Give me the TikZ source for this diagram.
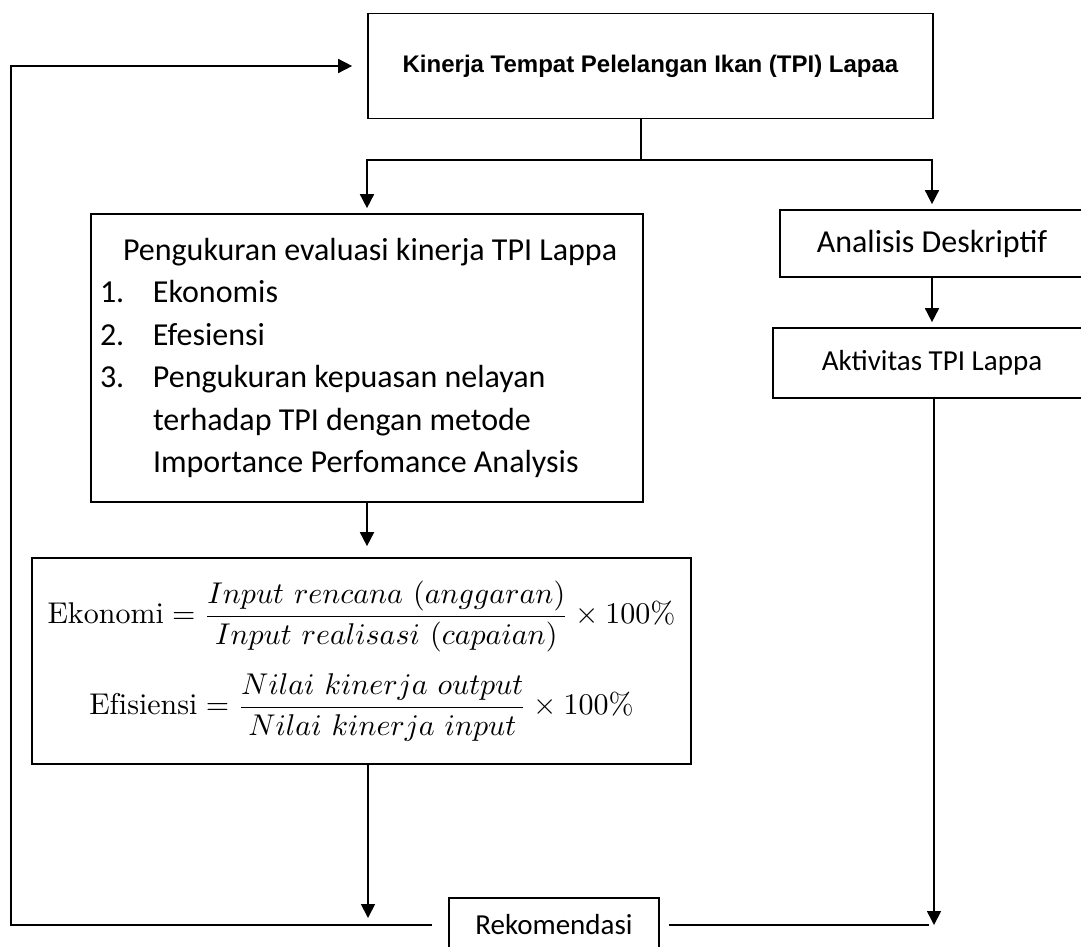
\documentclass[tikz,border=0pt]{standalone}
\usepackage{amsmath}
\usepackage{graphicx}
\usepackage{fontspec}
\newfontfamily\calibri{Carlito}
\newfontfamily\arial{Liberation Sans}
\usetikzlibrary{arrows.meta,calc}

\begin{document}
\begin{tikzpicture}[x=1pt,y=-1pt,line width=1.7pt,
 kotak/.style={draw,rectangle,inner sep=0pt,font=\calibri\fontsize{29}{42.5}\selectfont},
 panah/.style={-{Triangle[length=14pt,width=14pt]},shorten >=5pt}]
\useasboundingbox(0,0)rectangle(1081,946);
\clip(0,0)rectangle(1081,946);
\node[kotak,minimum width=565pt,minimum height=105pt,font=\arial\bfseries\fontsize{24}{28}\selectfont](judul)at(650.5,66){Kinerja Tempat Pelelangan Ikan (TPI) Lapaa};
\node[kotak,minimum width=552pt,minimum height=288pt,text width=534pt,align=flush left,font=\calibri\fontsize{32}{42.5}\selectfont](ukur)at(367,358){%
\hspace*{23pt}Pengukuran evaluasi kinerja TPI Lappa\\
\makebox[53pt][l]{1.}Ekonomis\\
\makebox[53pt][l]{2.}Efesiensi\\
\makebox[53pt][l]{3.}Pengukuran kepuasan nelayan\\
\hspace*{53pt}terhadap TPI dengan metode\\
\hspace*{53pt}Importance Perfomance Analysis};
\node[kotak,minimum width=304pt,minimum height=67pt,font=\calibri\fontsize{32}{38}\selectfont](deskriptif)at(932,243.5){Analisis Deskriptif};
\node[kotak,minimum width=318pt,minimum height=70pt](aktivitas)at(932,363){Aktivitas TPI Lappa};
\node[kotak,minimum width=659pt,minimum height=206pt,align=center,font=\fontsize{30}{91}\selectfont](rumus)at(361.5,661){%
\scalebox{3}{\fontsize{10}{12}\selectfont$\mathrm{Ekonomi}=\dfrac{Input\ rencana\ (anggaran)}{Input\ realisasi\ (capaian)}\times 100\%$}\\
\scalebox{3}{\fontsize{10}{12}\selectfont$\mathrm{Efisiensi}=\dfrac{Nilai\ kinerja\ output}{Nilai\ kinerja\ input}\times 100\%$}};
\node[kotak,minimum width=210pt,minimum height=54pt](rekomendasi)at(554,925){Rekomendasi};
% percabangan dari judul
\coordinate(cabang)at(641,160);
\draw(judul.south-|cabang)--(cabang);
\draw[panah](cabang)-|(ukur.north);
\draw[panah](cabang)-|(deskriptif.north);
\draw[panah](deskriptif.south)--(aktivitas.north);
\draw[panah,shorten >=11pt](ukur.south)--(ukur.south|-rumus.north);
% menuju rekomendasi
\coordinate(kiri)at(368,923);
\coordinate(kanan)at(934,930);
\coordinate(balik)at(11,0);
\draw[panah](rumus.south-|kiri)--(kiri);
\draw[panah](aktivitas.south-|kanan)--(kanan);
\draw[shorten <=9pt,shorten >=5pt](rekomendasi.east)--(rekomendasi.east-|kanan);
\draw[panah,shorten <=16pt,shorten >=15pt](rekomendasi.west)--(rekomendasi.west-|balik)|-(judul.west);
\end{tikzpicture}
\end{document}
